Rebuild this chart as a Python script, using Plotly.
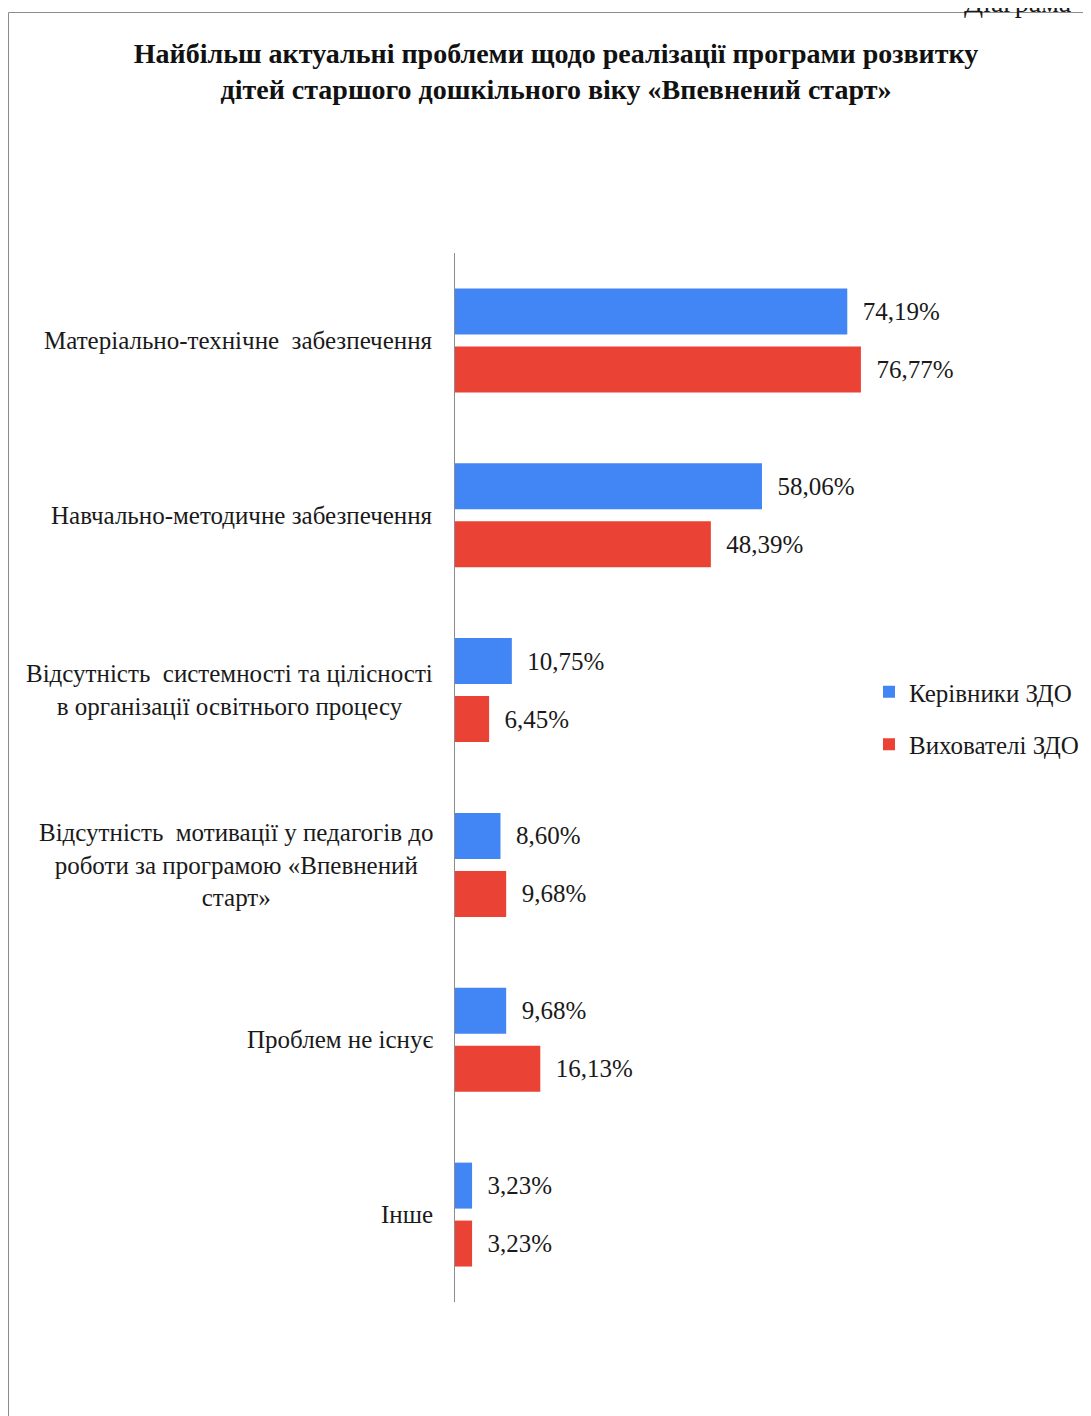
import plotly.graph_objects as go

categories = [
    "Матеріально-технічне  забезпечення",
    "Навчально-методичне забезпечення",
    "Відсутність  системності та цілісності<br>в організації освітнього процесу",
    "Відсутність  мотивації у педагогів до<br>роботи за програмою «Впевнений<br>старт»",
    "Проблем не існує",
    "Інше",
]
series_names = ["Керівники ЗДО", "Вихователі ЗДО"]
kerivnyky = [74.19, 58.06, 10.75, 8.60, 9.68, 3.23]
vykhovateli = [76.77, 48.39, 6.45, 9.68, 16.13, 3.23]
colors = ["#4285F4", "#EA4335"]

FONT = "Liberation Serif, Times New Roman, serif"

# page offset (body margin) compensation
O = 8
W, H = 1091, 1416
L = 455 - O
T = 253 - O
R = W - (878 - O)
B = H - (1302 - O)
pw = W - L - R
ph = H - T - B


def px(xp):  # page x -> paper
    return (xp - O - L) / pw


def py(yp):  # page y -> paper
    return 1 - (yp - O - T) / ph


fig = go.Figure()
for name, vals, col, grp in zip(series_names, [kerivnyky, vykhovateli], colors, ["a", "b"]):
    fig.add_trace(go.Bar(
        y=categories, x=vals, name=name, orientation="h",
        marker=dict(color=col, line=dict(width=0)),
        texttemplate="\u00a0\u00a0%{x:.2f}%", textposition="outside",
        textfont=dict(family=FONT, size=25, color="#1a1a1a"),
        cliponaxis=False, legendgroup=grp,
    ))

annotations = []
for c in categories:
    annotations.append(dict(
        x=px(435), xref="paper", y=c, yref="y", text=c, showarrow=False,
        xanchor="right", yanchor="middle", align="center",
        font=dict(family=FONT, size=25, color="#1a1a1a"),
    ))
annotations.append(dict(
    x=px(962), xref="paper", y=py(20), yref="paper",
    text="Діаграма", showarrow=False, xanchor="left", yanchor="bottom",
    font=dict(family=FONT, size=28, color="#1a1a1a"),
))

fig.update_layout(
    width=W, height=H,
    margin=dict(l=L, r=R, t=T, b=B, autoexpand=False),
    paper_bgcolor="white", plot_bgcolor="white",
    separators=", ",
    barmode="group", bargap=0.337, bargroupgap=0.207,
    title=dict(
        text="<b>Найбільш актуальні проблеми щодо реалізації програми розвитку<br>дітей старшого дошкільного віку «Впевнений старт»</b>",
        x=px(556), xref="paper", xanchor="center",
        y=1 - (63 - O) / H, yref="container", yanchor="middle",
        font=dict(family=FONT, size=28, color="#111111"),
    ),
    xaxis=dict(range=[0, 80], showgrid=False, zeroline=False, showticklabels=False,
               ticks="", showline=False, fixedrange=True),
    yaxis=dict(autorange="reversed", showticklabels=False, ticks="", showgrid=False,
               showline=True, linecolor="#8c8c8c", linewidth=1, zeroline=False),
    legend=dict(
        x=px(869), xanchor="left", y=py(718), yanchor="middle",
        font=dict(family=FONT, size=25, color="#1a1a1a"),
        bgcolor="rgba(0,0,0,0)", tracegroupgap=17, itemwidth=30,
    ),
    annotations=annotations,
    shapes=[dict(
        type="rect", xref="paper", yref="paper",
        x0=px(8.5), x1=px(W + 40),
        y0=py(H + 40), y1=py(12.5),
        line=dict(color="#8c8c8c", width=1), fillcolor="rgba(0,0,0,0)", layer="below",
    )],
    showlegend=True,
)

fig.write_html("out.html")
